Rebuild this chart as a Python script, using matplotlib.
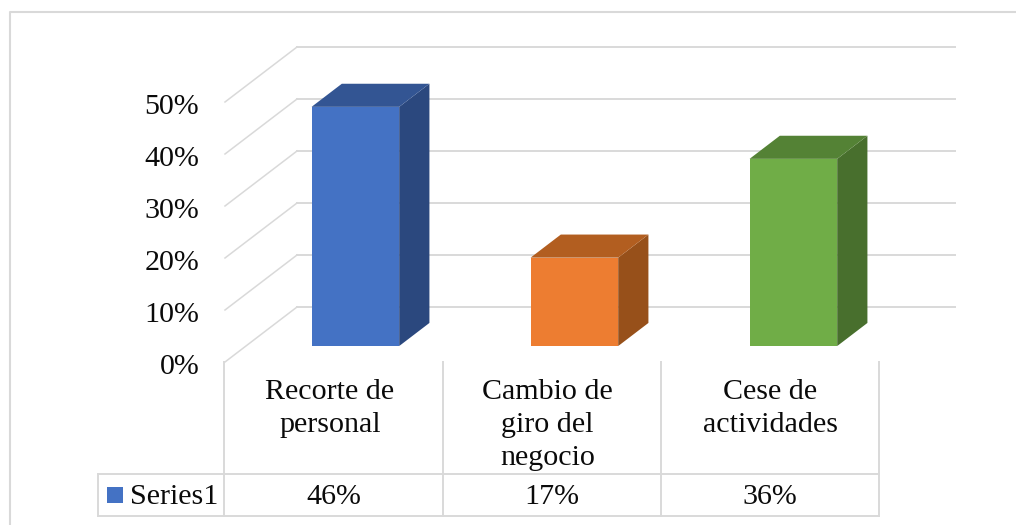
import matplotlib
matplotlib.use('Agg')
import matplotlib.pyplot as plt
from matplotlib.patches import Polygon, Rectangle
from matplotlib.transforms import ScaledTranslation

categories = ['Recorte de\npersonal', 'Cambio de\ngiro del\nnegocio', 'Cese de\nactividades']
values = [46, 17, 36]
value_labels = ['46%', '17%', '36%']
yticks = [0, 10, 20, 30, 40, 50]
ytick_labels = ['0%', '10%', '20%', '30%', '40%', '50%']
series_name = 'Series1'

front_colors = ['#4472C4', '#ED7D31', '#70AD47']
top_colors = ['#335593', '#B25E20', '#548235']
side_colors = ['#2B487E', '#97501A', '#486F2D']
grid_color = '#d9d9d9'

W, H = 1016, 525
plt.rcParams['font.family'] = ['Liberation Serif', 'DejaVu Serif']
FS = 21.6

fig = plt.figure(figsize=(W / 100, H / 100), dpi=100, facecolor='white')

# overlay in pixel coordinates for the frame and data table
over = fig.add_axes([0, 0, 1, 1], zorder=3)
over.set_xlim(0, W)
over.set_ylim(H, 0)
over.axis('off')
over.patch.set_alpha(0)

# chart area: front plane of the 3d box
x0, x1, y0, y1 = 225, 882, 362, 102
ax = fig.add_axes([x0 / W, 1 - y0 / H, (x1 - x0) / W, (y0 - y1) / H], zorder=1)
ax.set_xlim(0, len(categories))
ax.set_ylim(0, 50)
for s in ax.spines.values():
    s.set_visible(False)
ax.set_xticks([])
ax.set_yticks(yticks)
ax.set_yticklabels(ytick_labels, fontsize=FS, color='#0a0a0a')
ax.tick_params(axis='y', length=0, pad=18.5)
# labels sit a little below their gridline
for lab in ax.get_yticklabels():
    lab.set_transform(lab.get_transform() + ScaledTranslation(0, -2 / 100, fig.dpi_scale_trans))

# depth of the floor, in data units
cat_w = (x1 - x0) / len(categories)
pct_h = (y0 - y1) / 50
dx = 72 / cat_w
dy = 55 / pct_h


def project(x, y, d):
    return x + d * dx, y + d * dy


# back wall gridlines and the slanted side lines
for t in yticks:
    bx0, by = project(0, t, 1)
    ax.plot([bx0, 658 / cat_w + bx0], [by, by], color=grid_color, lw=1.4, clip_on=False, zorder=1)
    ax.plot([0, bx0], [t, by], color=grid_color, lw=1.1, clip_on=False, zorder=1)

# bars as three faces
bar_w = 0.40
d_front, d_back = 0.29, 0.71
for i, v in enumerate(values):
    left = i + 0.5 - bar_w / 2
    right = i + 0.5 + bar_w / 2
    a = project(left, 0, d_front)
    b = project(right, 0, d_front)
    c = project(right, v, d_front)
    e = project(left, v, d_front)
    f = project(left, v, d_back)
    g = project(right, v, d_back)
    h = project(right, 0, d_back)
    ax.add_patch(Polygon([b, h, g, c], closed=True, fc=side_colors[i], ec='none', clip_on=False, zorder=3))
    ax.add_patch(Polygon([e, c, g, f], closed=True, fc=top_colors[i], ec='none', clip_on=False, zorder=3))
    ax.add_patch(Polygon([a, b, c, e], closed=True, fc=front_colors[i], ec='none', clip_on=False, zorder=4))

# outer frame, only top and left are visible
over.plot([9.5, 9.5, W], [H, 12, 12], color=grid_color, lw=1.5)

# data table
col_x = [224, 443, 661, 879]
label_x = [330, 547.5, 770]
row_y = [474, 516]
for x in col_x:
    over.plot([x, x], [362, 516], color=grid_color, lw=1.4)
for y in row_y:
    over.plot([98, 879], [y, y], color=grid_color, lw=1.4)
over.plot([98, 98], row_y, color=grid_color, lw=1.4)

for i, name in enumerate(categories):
    cx = (col_x[i] + col_x[i + 1]) / 2
    over.text(label_x[i], 379, name, ha='center', va='top', fontsize=FS, linespacing=1.36, color='#0a0a0a')
    over.text(cx, 497, value_labels[i], ha='center', va='center', fontsize=FS, color='#0a0a0a')

over.add_patch(Rectangle((107, 487), 16, 16, fc=front_colors[0], ec='none'))
over.text(130, 497, series_name, ha='left', va='center', fontsize=FS, color='#0a0a0a')

fig.savefig('out.png', dpi=100, facecolor='white')
